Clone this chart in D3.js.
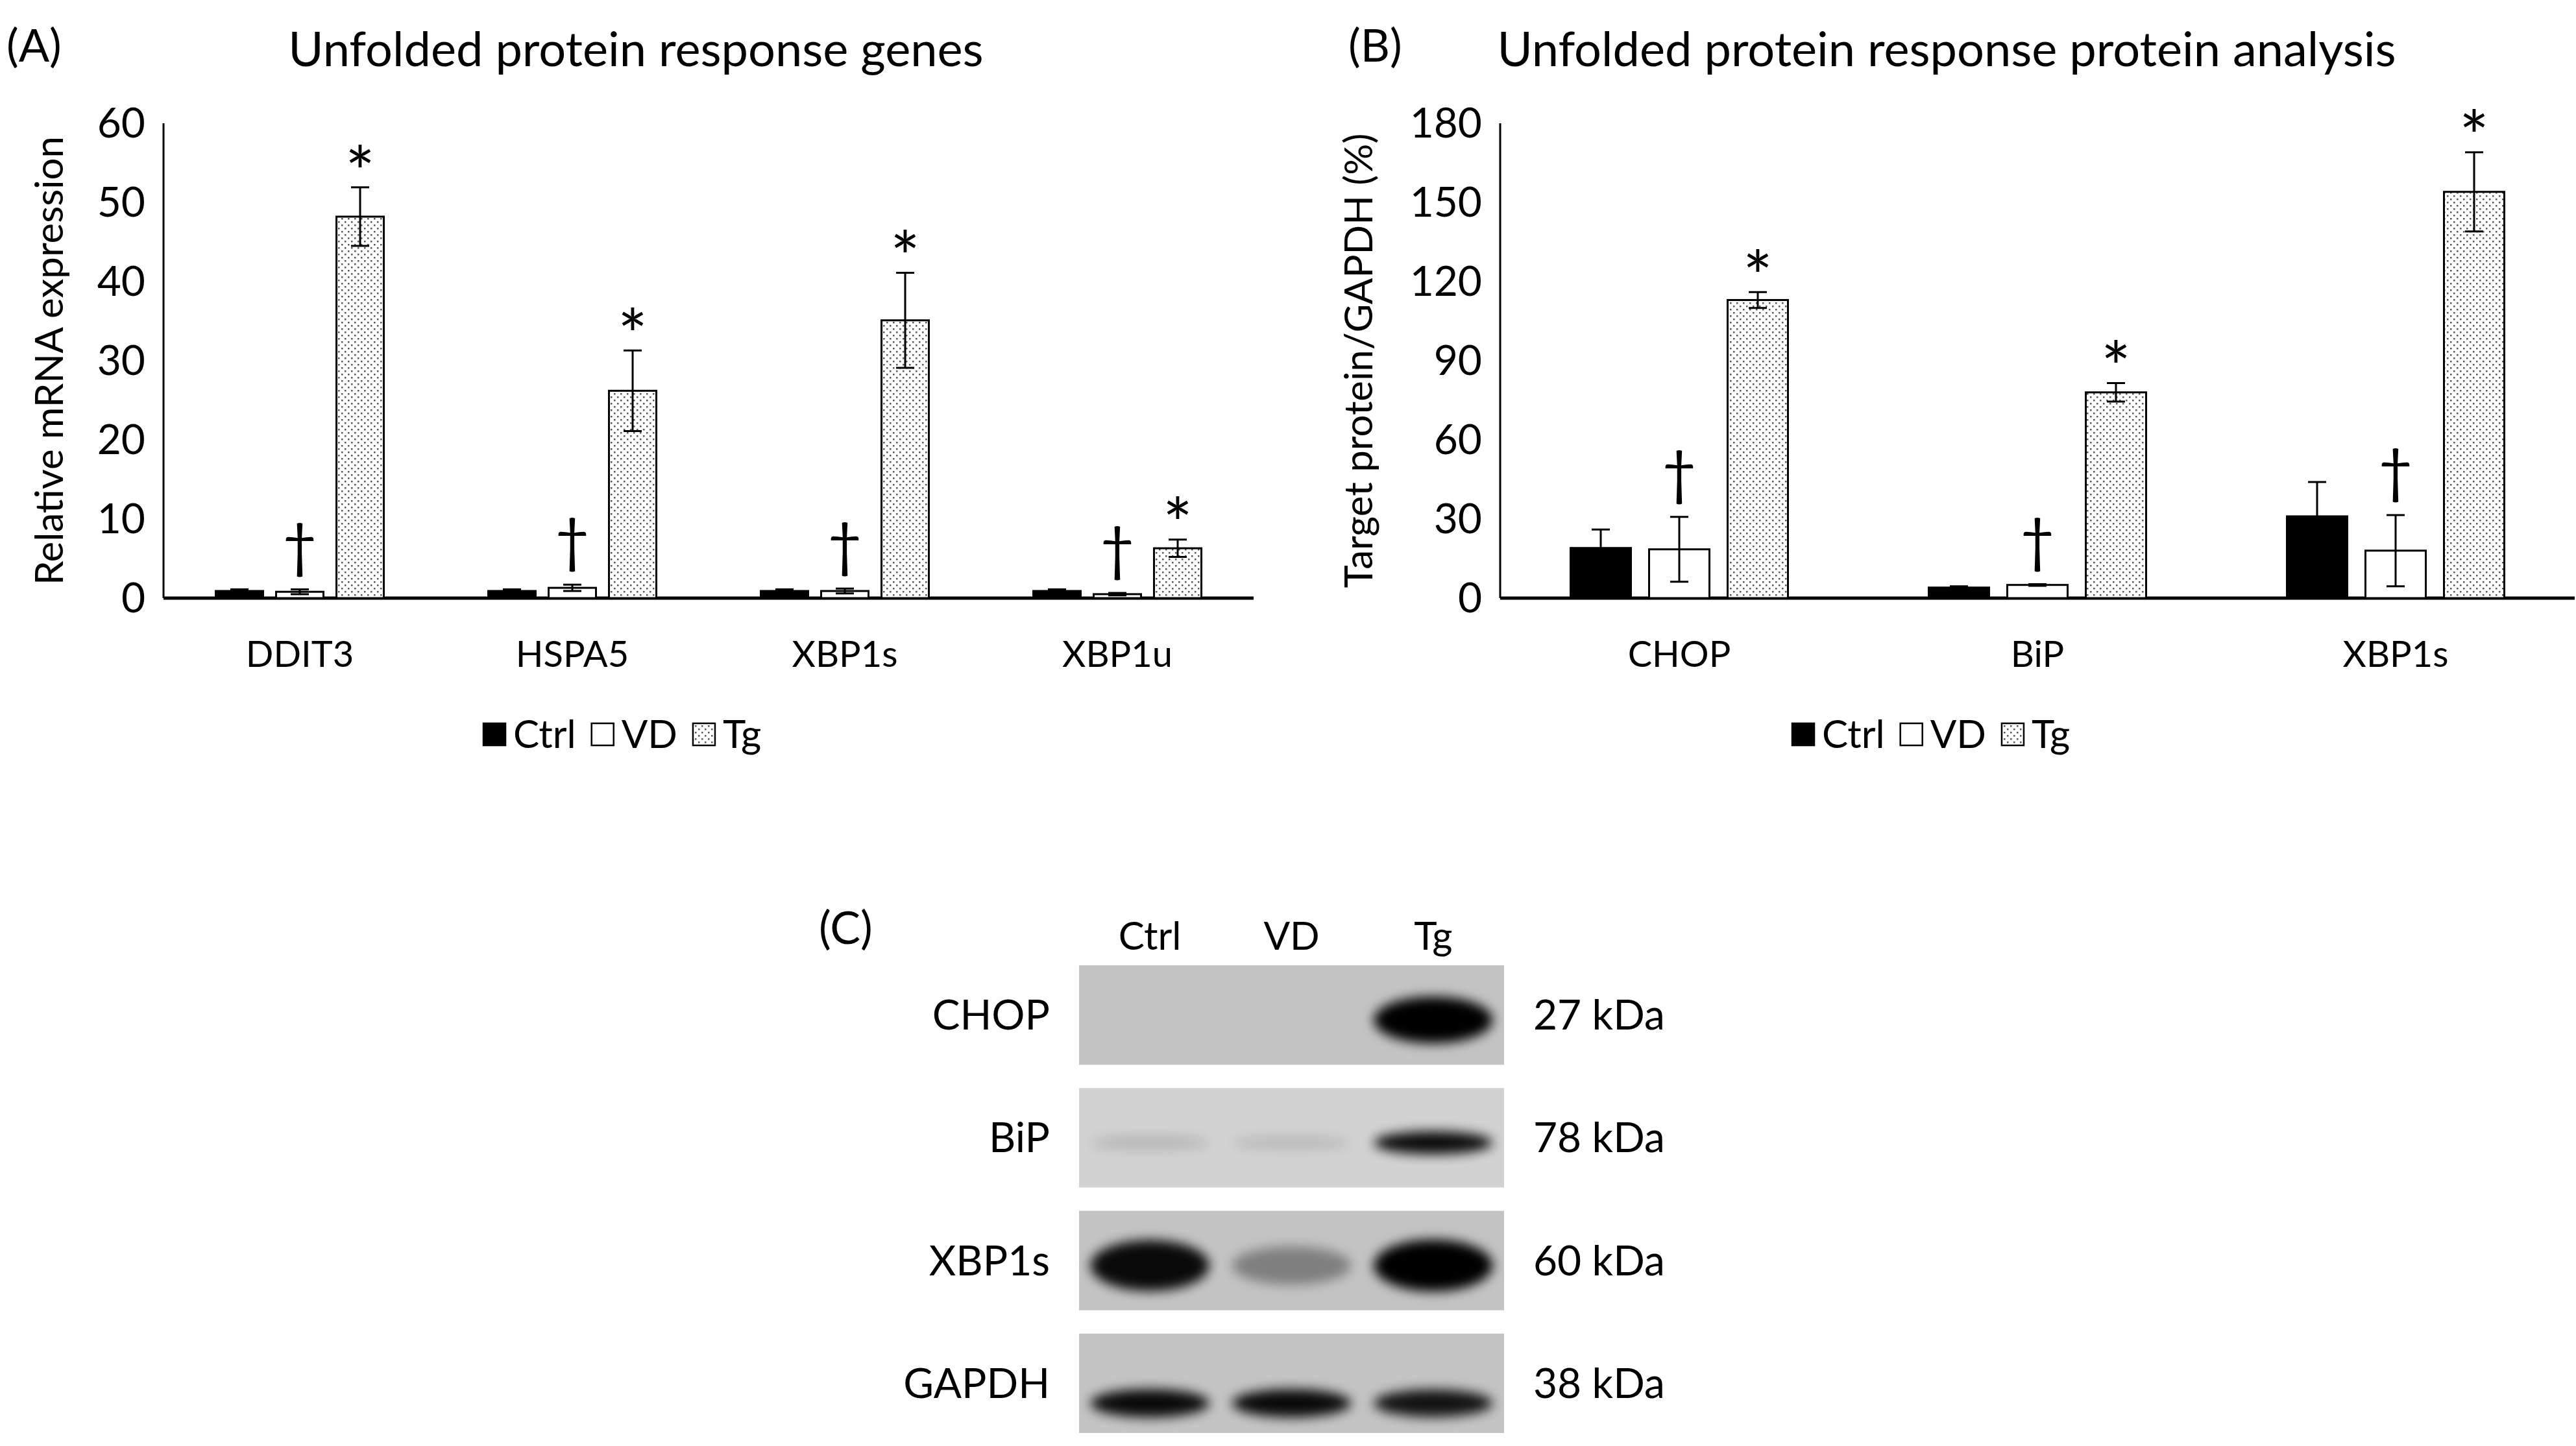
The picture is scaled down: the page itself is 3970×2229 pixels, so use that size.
<!DOCTYPE html>
<html><head><meta charset="utf-8">
<script src="https://cdn.jsdelivr.net/npm/d3@7"></script>
<style>body{margin:0;background:#fff}text{font-family:"Liberation Sans Narrow",Lato,sans-serif;fill:#000}</style>
</head><body>
<svg id="c" width="3970" height="2229"></svg>
<script>
const groups = ["Ctrl","VD","Tg"];
const genesA = ["DDIT3","HSPA5","XBP1s","XBP1u"];
const ctrlA = [0.9,0.9,0.9,0.9];
const vdA = [0.8,1.3,0.9,0.5];
const tgA = [48.2,26.2,35.1,6.3];
const ctrlAErr = [0.2,0.2,0.2,0.2];
const vdAErr = [0.3,0.4,0.3,0.15];
const tgAErr = [3.7,5.1,6.0,1.1];
const ticksA = [0,10,20,30,40,50,60];

const protB = ["CHOP","BiP","XBP1s"];
const ctrlB = [19,4,31];
const vdB = [18.5,5,18];
const tgB = [113,78,154];
const ctrlBErr = [7,0.5,13];
const vdBErr = [12.3,0.3,13.5];
const tgBErr = [3,3.5,15];
const ticksB = [0,30,60,90,120,150,180];

const blotRows = ["CHOP","BiP","XBP1s","GAPDH"];
const blotKDa = ["27 kDa","78 kDa","60 kDa","38 kDa"];
const blotBands = [[0,0,1],[0.12,0.1,0.95],[0.95,0.35,1],[0.95,0.95,0.9]];

const svg = d3.select("#c");
const defs = svg.append("defs");
const pat = defs.append("pattern").attr("id","dots").attr("width",10).attr("height",10).attr("patternUnits","userSpaceOnUse");
pat.append("rect").attr("width",10).attr("height",10).attr("fill","#fff");
pat.append("rect").attr("x",1).attr("y",1).attr("width",2.5).attr("height",2.5).attr("fill","#555");
pat.append("rect").attr("x",6).attr("y",6).attr("width",2.5).attr("height",2.5).attr("fill","#555");
defs.append("filter").attr("id","blur").attr("x","-50%").attr("y","-50%").attr("width","200%").attr("height","200%")
  .append("feGaussianBlur").attr("stdDeviation",9);

const fills = ["#000","#fff","url(#dots)"];

function panel(o){
  const g = svg.append("g");
  const x0 = d3.scaleBand().domain(o.cats).range([o.left,o.right]);
  const x1 = d3.scaleBand().domain(groups).range([0,o.bw*3+o.gap*2]).paddingInner(o.gap/(o.bw+o.gap));
  const y = d3.scaleLinear().domain([0,o.max]).range([o.bottom,o.top]);
  const series = [o.ctrl,o.vd,o.tg], errs=[o.ctrlE,o.vdE,o.tgE];
  g.append("line").attr("x1",o.left).attr("x2",o.left).attr("y1",y(o.max)).attr("y2",o.bottom).attr("stroke","#000").attr("stroke-width",3);
  g.append("line").attr("x1",o.left).attr("x2",o.right).attr("y1",o.bottom).attr("y2",o.bottom).attr("stroke","#000").attr("stroke-width",5);
  g.selectAll(".tk").data(o.ticks).join("text").attr("x",o.left-28).attr("y",d=>y(d)).attr("dy","0.35em")
    .attr("text-anchor","end").attr("font-size",64).text(d=>d);
  o.cats.forEach((c,i)=>{
    const cx = x0(c)+x0.bandwidth()/2, start = cx-(o.bw*3+o.gap*2)/2;
    groups.forEach((gname,k)=>{
      const v=series[k][i], e=errs[k][i], bx=start+x1(gname), w=x1.bandwidth();
      g.append("rect").attr("x",bx).attr("y",y(v)).attr("width",w).attr("height",o.bottom-y(v))
        .attr("fill",fills[k]).attr("stroke","#000").attr("stroke-width",3);
      const mx=bx+w/2, cap=o.cap;
      g.append("path").attr("d",`M${mx},${y(v+e)}V${y(Math.max(0,v-e))}M${mx-cap},${y(v+e)}H${mx+cap}M${mx-cap},${y(Math.max(0,v-e))}H${mx+cap}`)
        .attr("stroke","#000").attr("stroke-width",3).attr("fill","none");
      if(k===1) g.append("text").attr("x",mx).attr("y",y(v+e)-68).attr("dy","0.35em").attr("text-anchor","middle").attr("font-size",92).attr("font-family","DejaVu Sans").text("†");
      if(k===2) g.append("text").attr("x",mx).attr("y",y(v+e)-62).attr("dy","0.72em").attr("text-anchor","middle").attr("font-size",108).attr("font-family","DejaVu Sans").text("*");
    });
    g.append("text").attr("x",cx).attr("y",o.bottom+86).attr("dy","0.35em").attr("text-anchor","middle").attr("font-size",56).text(c);
  });
  g.append("text").attr("x",o.titleX).attr("y",76).attr("dy","0.35em").attr("text-anchor","middle").attr("font-size",74).text(o.title);
  g.append("text").attr("x",o.labX).attr("y",70).attr("dy","0.35em").attr("font-size",70).text(o.lab);
  g.append("text").attr("transform",`translate(${o.yLabX},${(o.top+o.bottom)/2}) rotate(-90)`).attr("dy","0.35em")
    .attr("text-anchor","middle").attr("font-size",60).attr("font-family","Open Sans").text(o.ytitle);
  const lg = g.append("g").attr("transform",`translate(${o.legX},1132)`);
  let lx=0;
  groups.forEach((gn,k)=>{
    lg.append("rect").attr("x",lx).attr("y",-17).attr("width",34).attr("height",34).attr("fill",fills[k]).attr("stroke","#000").attr("stroke-width",2.5);
    const t=lg.append("text").attr("x",lx+46).attr("y",0).attr("dy","0.35em").attr("font-size",60).text(gn);
    lx += 46 + t.node().getComputedTextLength() + 24;
  });
}

panel({cats:genesA,ctrl:ctrlA,vd:vdA,tg:tgA,ctrlE:ctrlAErr,vdE:vdAErr,tgE:tgAErr,ticks:ticksA,max:60,
  left:252,right:1932,top:190,bottom:922,bw:73,gap:20,cap:14,title:"Unfolded protein response genes",titleX:980,
  lab:"(A)",labX:10,yLabX:76,ytitle:"Relative mRNA expression",legX:745});
panel({cats:protB,ctrl:ctrlB,vd:vdB,tg:tgB,ctrlE:ctrlBErr,vdE:vdBErr,tgE:tgBErr,ticks:ticksB,max:180,
  left:2312,right:3968,top:190,bottom:922,bw:93,gap:28,cap:14,title:"Unfolded protein response protein analysis",titleX:3000,
  lab:"(B)",labX:2078,yLabX:2094,ytitle:"Target protein/GAPDH (%)",legX:2762});

const cg = svg.append("g");
cg.append("text").attr("x",1262).attr("y",1430).attr("dy","0.35em").attr("font-size",70).text("(C)");
const lanes = d3.scaleBand().domain(groups).range([1663,2318]);
const rowsY = d3.scaleBand().domain(blotRows).range([1488,2209]).paddingInner(0.19);
groups.forEach(gn=>cg.append("text").attr("x",lanes(gn)+lanes.bandwidth()/2).attr("y",1443).attr("dy","0.35em").attr("text-anchor","middle").attr("font-size",60).text(gn));
blotRows.forEach((r,i)=>{
  const y0=rowsY(r), h=rowsY.bandwidth();
  const cl = cg.append("clipPath").attr("id","clip"+i);
  cl.append("rect").attr("x",1663).attr("y",y0).attr("width",655).attr("height",h);
  cg.append("rect").attr("x",1663).attr("y",y0).attr("width",655).attr("height",h).attr("fill",i===1?"#d2d2d2":"#c4c4c4");
  const bg = cg.append("g").attr("clip-path",`url(#clip${i})`);
  groups.forEach((gn,k)=>{
    const a=blotBands[i][k]; if(a<=0) return;
    const cx=lanes(gn)+lanes.bandwidth()/2;
    const ry = i===0?36:(i===2?40:(i===1?18:22));
    bg.append("ellipse").attr("cx",cx).attr("cy",y0+h*(i===3?0.7:0.55)).attr("rx",lanes.bandwidth()*0.42).attr("ry",ry*(0.6+0.4*a))
      .attr("fill","#000").attr("opacity",a).attr("filter","url(#blur)");
  });
  cg.append("text").attr("x",1618).attr("y",y0+h/2).attr("dy","0.35em").attr("text-anchor","end").attr("font-size",64).text(r);
  cg.append("text").attr("x",2363).attr("y",y0+h/2).attr("dy","0.35em").attr("font-size",64).text(blotKDa[i]);
});
</script>
</body></html>
